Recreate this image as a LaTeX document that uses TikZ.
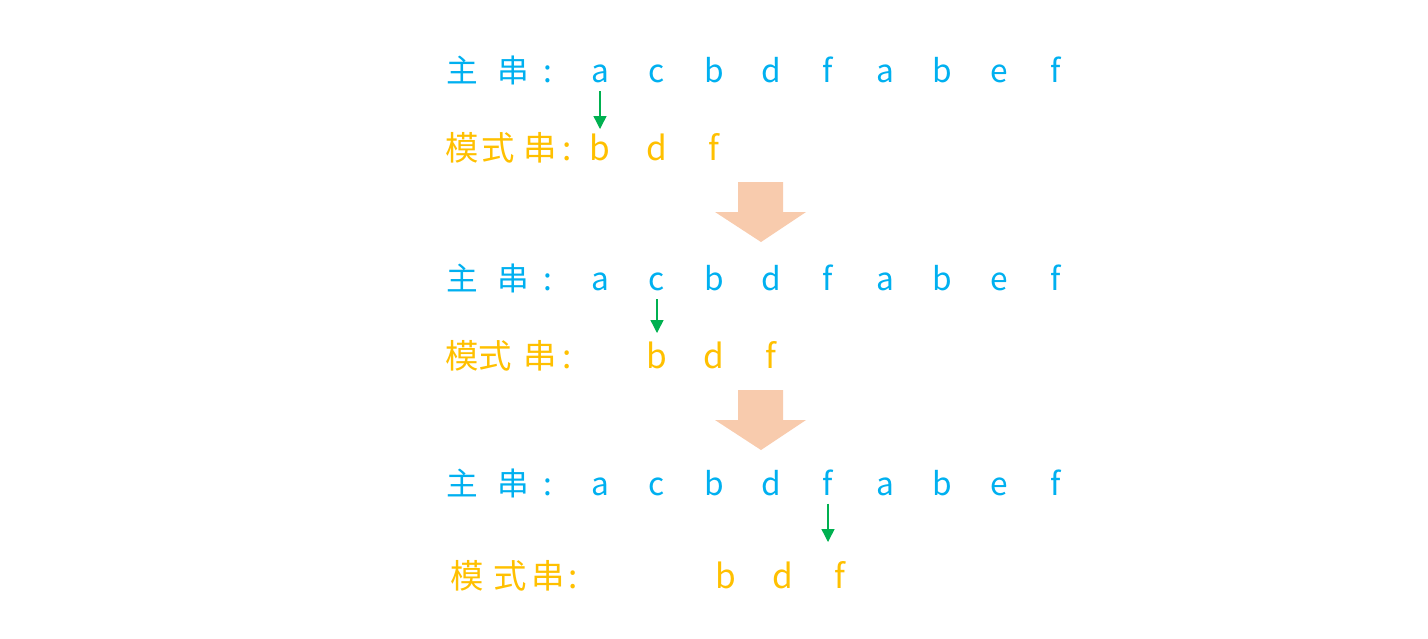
\documentclass[tikz,border=0pt]{standalone}
\usepackage{fontspec}
\newfontfamily\cjk{Noto Sans CJK SC}
\usepackage{xcolor}
\usetikzlibrary{arrows.meta}
\definecolor{mainblue}{RGB}{0,176,240}
\definecolor{patorange}{RGB}{255,192,0}
\definecolor{hintgreen}{RGB}{0,176,80}
\definecolor{peach}{RGB}{248,203,173}

\begin{document}
\begin{tikzpicture}[x=0.01cm, y=-0.01cm, >={Triangle[length=3.7pt,width=3.7pt]},
  mainch/.style={text=mainblue,inner sep=0pt,anchor=base,font=\cjk\fontsize{9}{9}\selectfont},
  patch/.style={text=patorange,inner sep=0pt,anchor=base,font=\cjk\fontsize{9.5}{9.5}\selectfont},
  hint/.style={->,color=hintgreen,line width=0.4pt,shorten <=0.08cm},
  bigarrow/.style={fill=peach}]
  \useasboundingbox (0,0) rectangle (1428,638);
  % main strings
  \foreach \r/\y in {1/82, 2/290, 3/495} {
    \node[mainch] (ml\r-1) at (462,\y) {主};
    \node[mainch] (ml\r-2) at (513,\y) {串};
    \node[mainch] (ml\r-3) at (548,\y) {:};
    \foreach \ch [count=\i] in {a,c,b,d,f,a,b,e,f}
      \node[mainch] (m\r-\i) at ({600+57*(\i-1)},\y) {\ch};
  }
  % pattern strings
  \foreach \r/\y/\xa/\xb/\xc/\xd/\xl in {1/160/462/498/540/567/600, 2/368/462/495/540/567/657, 3/588/467/510/548/573/726} {
    \node[patch] (pl\r-1) at (\xa,\y) {模};
    \node[patch] (pl\r-2) at (\xb,\y) {式};
    \node[patch] (pl\r-3) at (\xc,\y) {串};
    \node[patch] (pl\r-4) at (\xd,\y) {:};
    \foreach \ch [count=\i] in {b,d,f}
      \node[patch] (p\r-\i) at ({\xl+57*(\i-1)},\y) {\ch};
  }
  % comparison pointers
  \coordinate (t1) at (600,129);
  \coordinate (t2) at (657,333);
  \coordinate (t3) at (828,542);
  \draw[hint] (m1-1) -- (t1);
  \draw[hint] (m2-2) -- (t2);
  \draw[hint] (m3-5) -- (t3);
  % step arrows
  \foreach \y in {182, 390}
    \fill[bigarrow] (738,\y) -- (783,\y) -- (783,\y+30) -- (806,\y+30)
      -- (761,\y+60) -- (715,\y+30) -- (738,\y+30) -- cycle;
\end{tikzpicture}
\end{document}
